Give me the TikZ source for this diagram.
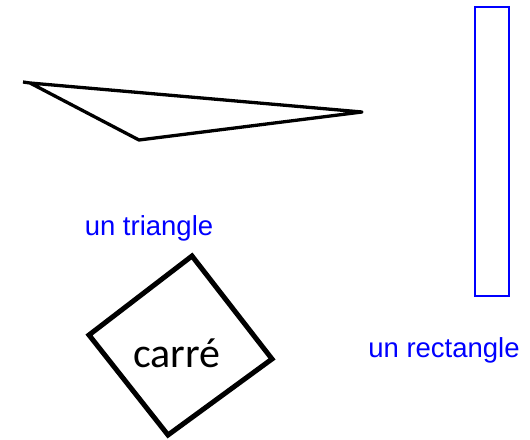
\documentclass[tikz,border=0pt]{standalone}
\usepackage{fontspec}
\setmainfont{Liberation Sans}
\newfontfamily\carlito{Carlito}
\definecolor{pureblue}{RGB}{0,0,255}
\begin{document}
\begin{tikzpicture}[x=1pt,y=-1pt,
  shapeline/.style={draw=black},
  bluelabel/.style={text=pureblue,font=\fontsize{27.5}{30}\selectfont,anchor=base,inner sep=0pt}]
\useasboundingbox (0,0) rectangle (530,439);
% triangle
\draw[shapeline,line width=3.3,line join=round] (23,82) -- (30,83) -- (362,112) -- (139,140) -- (30,83);
% rectangle
\draw[pureblue,line width=2] (475,7) rectangle (509,296);
% square
\draw[shapeline,line width=5,line join=miter] (192,256) -- (272,359) -- (168,435) -- (89,335) -- cycle;
\node[anchor=base,inner sep=0pt,font=\carlito\fontsize{42}{44}\selectfont] (carre) at (177,367) {carré};
\node[bluelabel] (tri) at (149,235) {un triangle};
\node[bluelabel] (rect) at (444,357) {un rectangle};
\end{tikzpicture}
\end{document}
